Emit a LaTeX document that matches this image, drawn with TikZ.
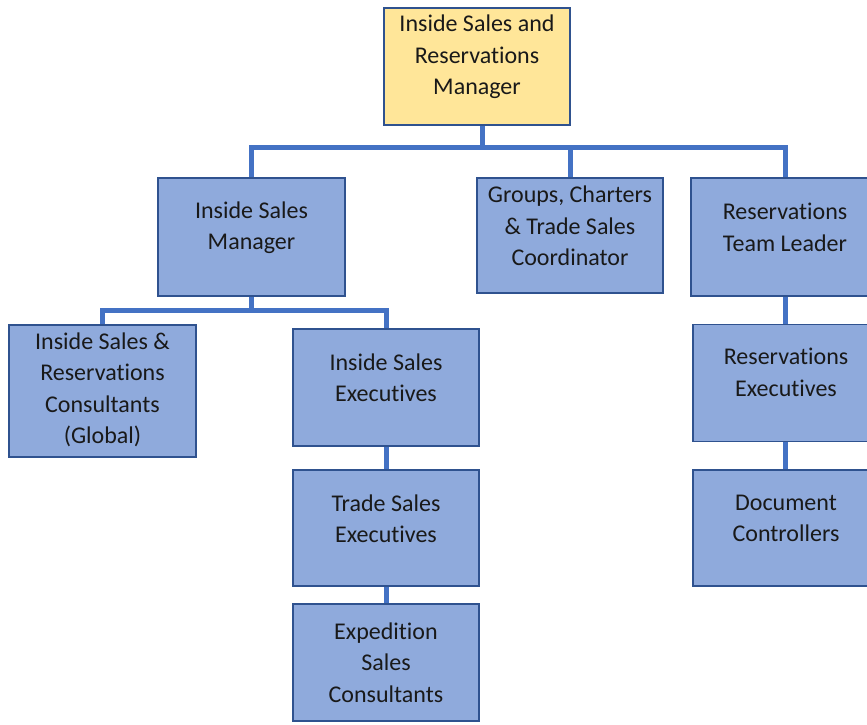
\documentclass[tikz,border=0pt]{standalone}
\usepackage{fontspec}
\setmainfont{Carlito}[Ligatures=NoCommon]
\usetikzlibrary{positioning}
\definecolor{boxc}{HTML}{8FAADC}
\definecolor{topc}{HTML}{FFE699}
\definecolor{bordc}{HTML}{2F528F}
\definecolor{linkc}{HTML}{4472C4}
\tikzset{
  unit/.style={draw=bordc, line width=1.6pt, fill=boxc, minimum width=186,
    minimum height=117, inner sep=0pt},
  lbl/.style={font=\fontsize{24}{31.5}\selectfont, align=center, text=black!90},
  link/.style={draw=linkc, line width=5pt, line join=miter}
}
\begin{document}
\begin{tikzpicture}[x=1pt,y=-1pt]
\useasboundingbox (0,0) rectangle (867,724);
% top of the chart
\node[unit, fill=topc, label={[lbl,yshift=9.5]center:{Inside Sales and\\Reservations\\Manager}}] (top) at (477,66.5) {};
% second row
\node[unit, minimum width=187, minimum height=118, label={[lbl,yshift=9.5]center:{Inside Sales\\Manager}}] (ism) at (251.5,237) {};
\node[unit, minimum height=115, label={[lbl,yshift=9.5]center:{Groups, Charters\\\& Trade Sales\\Coordinator}}] (gct) at (570,235.5) {};
\node[unit, minimum width=188, minimum height=118, label={[lbl,yshift=9.5]center:{Reservations\\Team Leader}}] (rtl) at (785,237) {};
% third row and below
\node[unit, minimum width=187, minimum height=132, label={[lbl,yshift=1]center:{Inside Sales \&\\Reservations\\Consultants\\(Global)}}] (isc) at (102.5,391) {};
\node[unit, label={[lbl,yshift=10]center:{Inside Sales\\Executives}}] (ise) at (386,387.5) {};
\node[unit, minimum height=116, label={[lbl,yshift=9.5]center:{Trade Sales\\Executives}}] (tse) at (386,528) {};
\node[unit, label={[lbl,yshift=0]center:{Expedition\\Sales\\Consultants}}] (esc) at (386,662.5) {};
\node[unit, label={[lbl,yshift=10.5]center:{Reservations\\Executives}}] (rex) at (786,383) {};
\node[unit, minimum height=116, label={[lbl,yshift=9.5]center:{Document\\Controllers}}] (dco) at (786,528) {};
% connectors
\coordinate (bus1) at (482,147);
\coordinate (bus2) at (251.5,310);
\draw[link] ([xshift=5]top.south) -- (bus1);
\draw[link] (ism.north) |- (bus1) -| (rtl.north);
\draw[link] (bus1 -| gct.north) -- (gct.north);
\draw[link] (ism.south) -- (bus2);
\draw[link] (isc.north) |- (bus2) -| (ise.north);
\draw[link] (ise.south) -- (tse.north);
\draw[link] (tse.south) -- (esc.north);
\draw[link] (rtl.south) -- (rtl.south |- rex.north);
\draw[link] (rtl.south |- rex.south) -- (rtl.south |- dco.north);
\end{tikzpicture}
\end{document}
